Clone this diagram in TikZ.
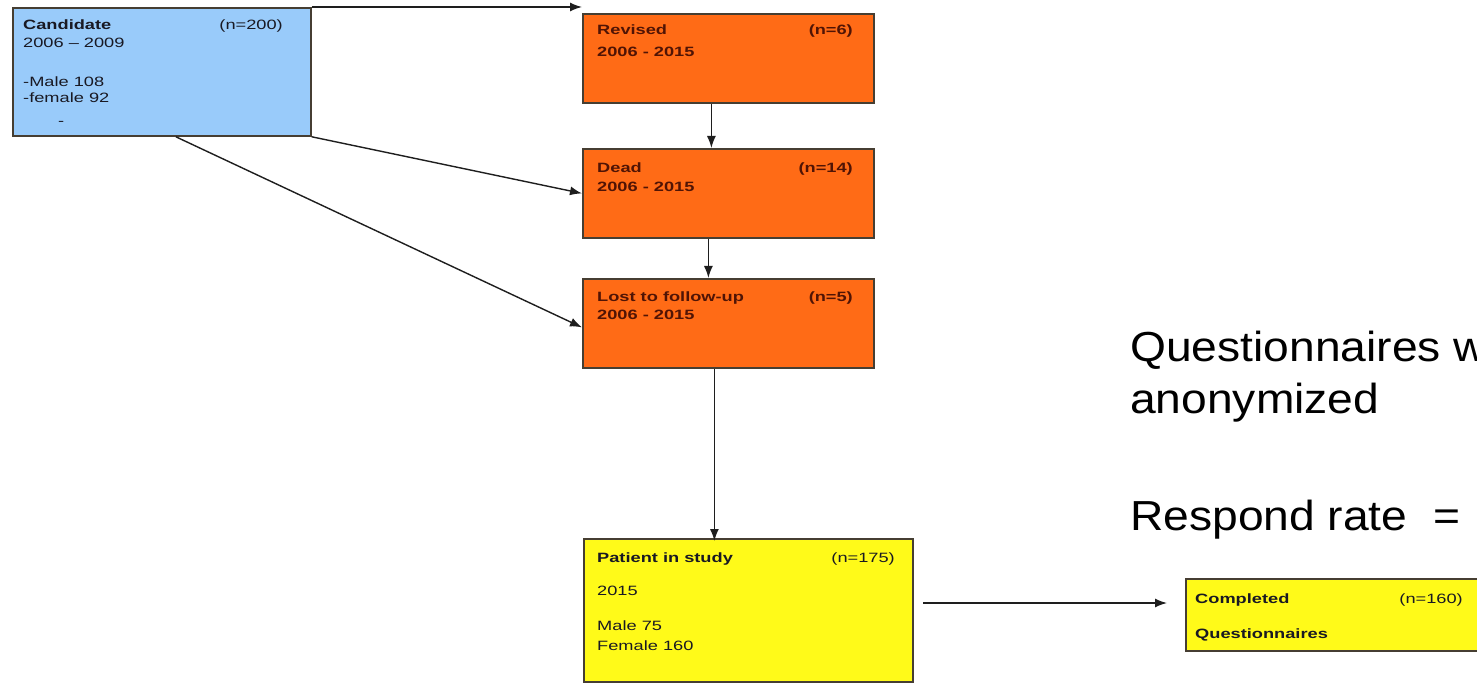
\documentclass[tikz,border=0pt]{standalone}
\usepackage{fontspec}
\setmainfont{Liberation Sans}[FakeStretch=1.35]
\newfontfamily\bigfont{Liberation Sans}[FakeStretch=1.1]
\usetikzlibrary{arrows.meta}
\definecolor{bluef}{RGB}{153,203,250}
\definecolor{orangef}{RGB}{255,107,22}
\definecolor{yellowf}{RGB}{255,250,25}
\definecolor{edgec}{RGB}{70,62,50}
\definecolor{brownt}{RGB}{80,20,5}
\definecolor{darkt}{RGB}{25,25,35}
\definecolor{linec}{RGB}{30,30,30}
\tikzset{
  box/.style={draw=edgec, line width=1.8pt, fill=#1, anchor=north west, inner sep=0pt},
  txt/.style={inner sep=0pt, anchor=base west, font=\fontsize{13.5}{16}\selectfont, text=darkt},
  btxt/.style={txt, font=\fontsize{13.5}{16}\selectfont\bfseries},
  otxt/.style={txt, text=brownt, font=\fontsize{13.5}{16}\selectfont\bfseries},
  bigtxt/.style={inner sep=0pt, anchor=base west, font=\bigfont\fontsize{42}{50}\selectfont, text=black},
  arr/.style={draw=linec, line width=1.4pt, -{Latex[length=12pt,width=9pt]}}
}
\begin{document}
\begin{tikzpicture}[x=1pt,y=-1pt]
\useasboundingbox (0,0) rectangle (1477,684);
\fill[white] (0,0) rectangle (1477,684);
% boxes
\node[box=bluef, minimum width=298pt, minimum height=128pt] (cand) at (12,7) {};
\node[box=orangef, minimum width=291pt, minimum height=89pt] (rev) at (582,13) {};
\node[box=orangef, minimum width=291pt, minimum height=89pt] (dead) at (582,148) {};
\node[box=orangef, minimum width=291pt, minimum height=89pt] (lost) at (582,278) {};
\node[box=yellowf, minimum width=329pt, minimum height=143pt] (pat) at (583,538) {};
\node[box=yellowf, minimum width=320pt, minimum height=72pt] (comp) at (1185,578) {};
% candidate text
\node[btxt] (c1) at (23,30) {Candidate};
\node[txt, anchor=base east] (c2) at (283,30) {(n=200)};
\node[txt] (c3) at (23,48) {2006 -- 2009};
\node[txt] (c4) at (23,87) {-Male 108};
\node[txt] (c5) at (23,103) {-female 92};
\node[txt] (c6) at (58,126) {-};
% orange texts
\node[otxt] (r1) at (597,35) {Revised};
\node[otxt, anchor=base east] (r2) at (853,35) {(n=6)};
\node[otxt] (r3) at (597,57) {2006 - 2015};
\node[otxt] (d1) at (597,173) {Dead};
\node[otxt, anchor=base east] (d2) at (853,173) {(n=14)};
\node[otxt] (d3) at (597,192) {2006 - 2015};
\node[otxt] (l1) at (597,302) {Lost to follow-up};
\node[otxt, anchor=base east] (l2) at (853,302) {(n=5)};
\node[otxt] (l3) at (597,320) {2006 - 2015};
% patient texts
\node[btxt] (p1) at (597,562) {Patient in study};
\node[txt, anchor=base east] (p2) at (895,562) {(n=175)};
\node[txt] (p3) at (597,595) {2015};
\node[txt] (p4) at (597,630) {Male 75};
\node[txt] (p5) at (597,650) {Female 160};
% completed texts
\node[btxt] (q1) at (1195,603) {Completed};
\node[txt, anchor=base east] (q2) at (1463,603) {(n=160)};
\node[btxt] (q3) at (1195,638) {Questionnaires};
% big text
\node[bigtxt] (b1) at (1130,362) {Questionnaires w};
\node[bigtxt] (b2) at (1130,413) {anonymized};
\node[bigtxt] (b3) at (1130,530) {Respond rate\ \ =};
% connectors
\draw[arr] (cand.north east) -- (cand.north east -| rev.west);
\draw[arr] ([xshift=-17pt]rev.south) -- ([xshift=-17pt]dead.north);
\draw[arr] ([xshift=-20pt]dead.south) -- ([xshift=-20pt]lost.north);
\draw[arr] (cand.south east) -- (dead.west);
\draw[arr] ([xshift=14pt]cand.south) -- ([yshift=-4pt]lost.west);
\draw[arr] ([xshift=-14pt]lost.south) -- ([xshift=-14pt,yshift=-3pt]lost.south |- pat.north);
\coordinate (a1) at (923,603);
\coordinate (a2) at (1167,603);
\draw[arr] (a1) -- (a2);
\end{tikzpicture}
\end{document}
